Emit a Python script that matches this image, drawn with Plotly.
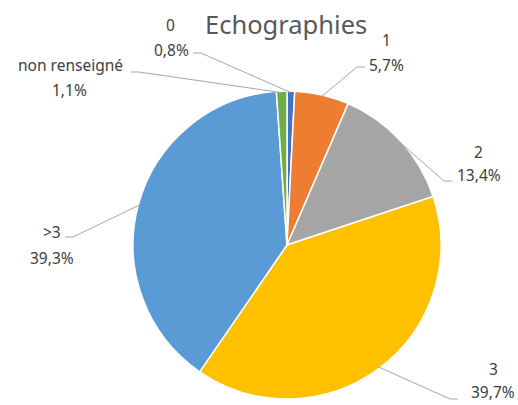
import math
import plotly.graph_objects as go

# ---- data ----
categories = ["0", "1", "2", "3", ">3", "non renseigné"]
values = [0.8, 5.7, 13.4, 39.7, 39.3, 1.1]
value_labels = ["0,8%", "5,7%", "13,4%", "39,7%", "39,3%", "1,1%"]
colors = ["#4472C4", "#ED7D31", "#A5A5A5", "#FFC000", "#5B9BD5", "#70AD47"]

W, H = 518, 405
CX, CY, R = 287, 245, 154  # pie geometry in pixels

# label layout (pixel positions of the two text lines) and leader-line anchor near the label
label_pos = {
    "0": ((170, 25), (171, 50), (193, 53), +1),
    "1": ((386, 40), (386, 65), (365, 67), -1),
    "2": ((478, 152), (479, 175), (452, 181), -1),
    "3": ((493, 369), (493, 392), (458, 399), -1),
    ">3": ((52, 232), (52, 258), (65, 237), +1),
    "non renseigné": ((70, 65), (69, 90), (131, 72), +1),
}

def px(x):
    return x / W

def py(y):
    return 1 - y / H

fig = go.Figure(go.Pie(
    labels=categories,
    values=values,
    sort=False,
    direction="clockwise",
    rotation=0,
    marker=dict(colors=colors, line=dict(color="white", width=1.5)),
    textinfo="none",
    hoverinfo="label+percent",
    showlegend=False,
    domain=dict(x=[px(CX - R), px(CX + R)], y=[py(CY + R), py(CY - R)]),
))

annotations = []
shapes = []
total = sum(values)
cum = 0.0
font = dict(family="Noto Sans, Open Sans, sans-serif", size=15.5, color="#404040")
for cat, val, vl in zip(categories, values, value_labels):
    mid = (cum + val / 2) / total * 2 * math.pi
    cum += val
    (n_x, n_y), (v_x, v_y), (a_x, a_y), side = label_pos[cat]
    annotations.append(dict(x=px(n_x), y=py(n_y), xref="paper", yref="paper", text=cat,
                            showarrow=False, font=font, xanchor="center", yanchor="middle"))
    annotations.append(dict(x=px(v_x), y=py(v_y), xref="paper", yref="paper", text=vl,
                            showarrow=False, font=font, xanchor="center", yanchor="middle"))
    ex = CX + R * 0.99 * math.sin(mid)
    ey = CY - R * 0.99 * math.cos(mid)
    elbow_x = a_x + side * 8
    path = f"M {px(a_x)},{py(a_y)} L {px(elbow_x)},{py(a_y)} L {px(ex)},{py(ey)}"
    shapes.append(dict(type="path", path=path, xref="paper", yref="paper",
                       line=dict(color="#A6A6A6", width=1)))

annotations.append(dict(x=px(286), y=py(24), xref="paper", yref="paper", text="Echographies",
                        showarrow=False, xanchor="center", yanchor="middle",
                        font=dict(family="Noto Sans, Open Sans, sans-serif", size=25.5, color="#595959")))

fig.update_layout(
    width=W, height=H, autosize=False,
    margin=dict(l=0, r=0, t=0, b=0),
    paper_bgcolor="white", plot_bgcolor="white",
    annotations=annotations, shapes=shapes,
)

fig.write_html("out.html", config={"displayModeBar": False},
               post_script="document.body.style.margin='0';document.body.style.overflow='hidden';")
